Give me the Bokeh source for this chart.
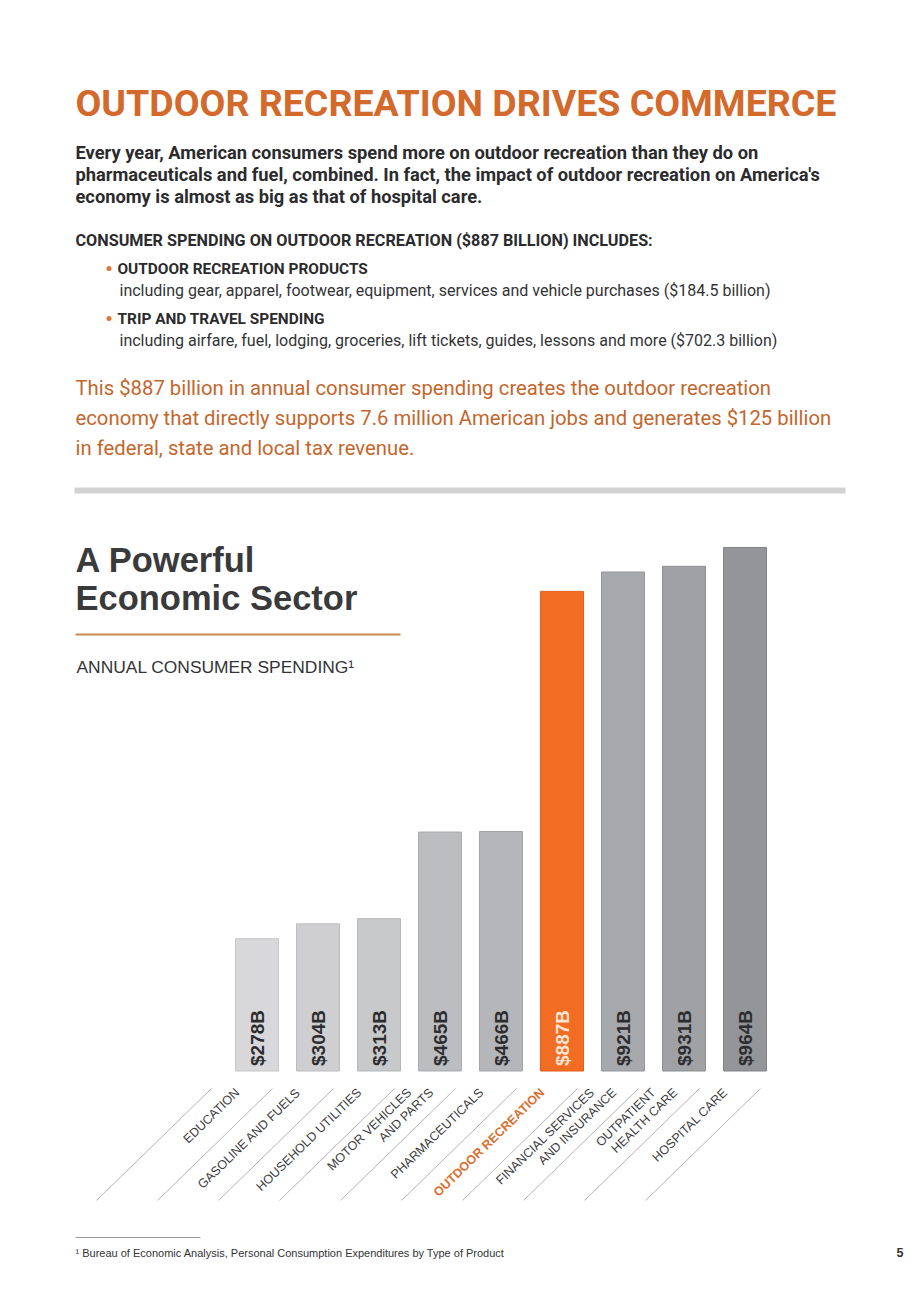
import math
from bokeh.plotting import figure
from bokeh.models import Range1d
from bokeh.core.properties import value
from bokeh.embed import file_html
from bokeh.resources import INLINE

# ---------------- data ----------------
categories = [
    "EDUCATION",
    "GASOLINE AND FUELS",
    "HOUSEHOLD UTILITIES",
    "MOTOR VEHICLES\nAND PARTS",
    "PHARMACEUTICALS",
    "OUTDOOR RECREATION",
    "FINANCIAL SERVICES\nAND INSURANCE",
    "OUTPATIENT\nHEALTH CARE",
    "HOSPITAL CARE",
]
values = [278, 304, 313, 465, 466, 887, 921, 931, 964]
value_labels = ["$278B", "$304B", "$313B", "$465B", "$466B", "$887B", "$921B", "$931B", "$964B"]
highlight = "OUTDOOR RECREATION"

title_text = "OUTDOOR RECREATION DRIVES COMMERCE"
intro_lines = [
    "Every year, American consumers spend more on outdoor recreation than they do on",
    "pharmaceuticals and fuel, combined. In fact, the impact of outdoor recreation on America's",
    "economy is almost as big as that of hospital care.",
]
includes_head = "CONSUMER SPENDING ON OUTDOOR RECREATION ($887 BILLION) INCLUDES:"
bullets = [
    ("OUTDOOR RECREATION PRODUCTS",
     "including gear, apparel, footwear, equipment, services and vehicle purchases ($184.5 billion)"),
    ("TRIP AND TRAVEL SPENDING",
     "including airfare, fuel, lodging, groceries, lift tickets, guides, lessons and more ($702.3 billion)"),
]
orange_lines = [
    "This $887 billion in annual consumer spending creates the outdoor recreation",
    "economy that directly supports 7.6 million American jobs and generates $125 billion",
    "in federal, state and local tax revenue.",
]
chart_title = ["A Powerful", "Economic Sector"]
chart_subtitle = "ANNUAL CONSUMER SPENDING\u00b9"
footnote = "\u00b9 Bureau of Economic Analysis, Personal Consumption Expenditures by Type of Product"
page_number = "5"

# ---------------- styles / layout ----------------
bar_fill = ["#d8d7da", "#cfcfd1", "#c8c9cb", "#bcbdc0", "#b5b6b9",
            "#f26c23", "#a8a9ac", "#a0a1a4", "#939598"]
bar_edge = ["#c6c5c8", "#bdbdc0", "#b6b7b9", "#aaabae", "#a3a4a7",
            "#e35f18", "#96979a", "#8e8f92", "#818386"]
ORANGE = "#d4692c"
ORANGE_TXT = "#c4662c"
DARK = "#2b2b2d"

W, H = 904, 1286
BASE_Y = 1070.5    # px of bar baseline
K = 0.5703         # px per $B
V0 = 46            # value at the baseline of the chart axis
X0 = 256.5         # px of first bar centre
STEP = 61          # px between bars

p = figure(width=W, height=H, x_range=Range1d(0, W), y_range=Range1d(H, 0),
           output_backend="svg", toolbar_location=None, min_border=0,
           x_axis_location=None, y_axis_location=None)
p.grid.visible = False
p.outline_line_color = None
p.background_fill_color = "white"
p.border_fill_color = "white"

p.extra_y_ranges = {"bil": Range1d(V0 - (H - BASE_Y) / K, V0 + BASE_Y / K)}
p.extra_x_ranges = {"idx": Range1d(-X0 / STEP, (W - X0) / STEP)}


def txt(x, y, s, size, color, bold=False, font="Roboto", align="left", baseline="middle"):
    p.text(x=[x], y=[y], text=[s], text_font=value(font), text_font_size=f"{size}px",
           text_color=color, text_font_style="bold" if bold else "normal",
           text_align=align, text_baseline=baseline)


# ---------------- header text ----------------
txt(75, 102, title_text, 37.5, ORANGE, bold=True, font="Roboto")
for i, line in enumerate(intro_lines):
    txt(75, 152 + 22 * i, line, 18.3, DARK, bold=True)
txt(75, 240, includes_head, 16.2, DARK, bold=True)
for i, (head, body) in enumerate(bullets):
    y0 = 268 + 50 * i
    p.scatter(x=[108.5], y=[y0], size=5, marker="circle", fill_color="#d8773a", line_color=None)
    txt(117, y0, head, 15.4, DARK, bold=True)
    txt(119, y0 + 21.5, body, 16, "#333335")
for i, line in enumerate(orange_lines):
    txt(75, 387 + 30 * i, line, 20.3, ORANGE_TXT)

p.quad(left=[74], right=[845], top=[487], bottom=[493], fill_color="#d2d2d2", line_color=None)

# ---------------- chart heading ----------------
txt(75, 559, chart_title[0], 34.5, "#3a3a3c", bold=True, font="Liberation Sans")
txt(75, 597.5, chart_title[1], 34.5, "#3a3a3c", bold=True, font="Liberation Sans")
p.segment(x0=[75], x1=[400], y0=[634], y1=[634], line_color="#c8874c", line_width=2)
txt(76, 666, chart_subtitle, 17.4, "#333335", font="Liberation Sans")

# ---------------- bars ----------------
idx = list(range(len(values)))
p.vbar(x=idx, width=43 / STEP, bottom=V0, top=values, fill_color=bar_fill, line_color=bar_edge,
       line_width=1, x_range_name="idx", y_range_name="bil")

lab_colors = ["#fde3d2" if c == highlight else "#2d2d2f" for c in categories]
p.text(x=idx, y=[BASE_Y - 5] * len(idx), text=value_labels, angle=math.pi / 2,
       text_align="left", text_baseline="middle", text_font=value("Liberation Sans"),
       text_font_style="bold", text_font_size="19px", text_color=lab_colors,
       x_range_name="idx")

# ---------------- slanted category labels ----------------
ANG = math.atan2(112, 115)
lines_j = list(range(len(values) + 1))
p.segment(x0=[j - 160.5 / STEP for j in lines_j], x1=[j - 45.5 / STEP for j in lines_j],
          y0=[1200] * len(lines_j), y1=[1088] * len(lines_j),
          line_color="#b4b4b6", line_width=1, x_range_name="idx")

for i, cat in enumerate(categories):
    parts = cat.split("\n")
    if len(parts) == 1:
        offs = [-19.5]
    else:
        offs = [-30.5, -8.5]
    is_hi = cat == highlight
    p.text(x=[i] * len(parts), y=[1090] * len(parts), text=parts, x_offset=offs,
           angle=ANG, text_align="right", text_baseline="middle",
           text_font=value("Liberation Sans"), text_font_size="12.5px",
           text_font_style="bold" if is_hi else "normal",
           text_color="#d9702f" if is_hi else "#3a3a3c", x_range_name="idx")

# ---------------- footnote ----------------
p.segment(x0=[75], x1=[200], y0=[1237], y1=[1237], line_color="#9a9a9a", line_width=1)
txt(75, 1252, footnote, 11, "#333335", font="Liberation Sans")
txt(903, 1252, page_number, 12.5, "#333335", bold=True, font="Liberation Sans", align="right")

open("out.html", "w").write(file_html(p, INLINE))
